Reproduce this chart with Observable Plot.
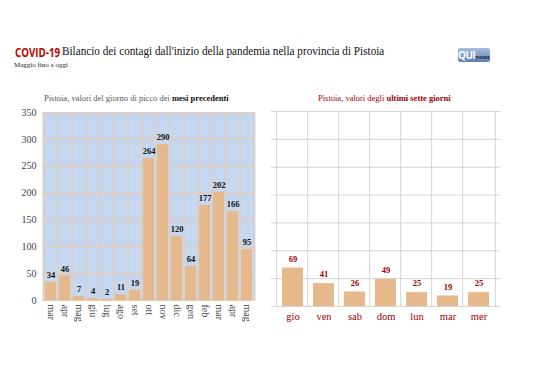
<!DOCTYPE html>
<html><head><meta charset="utf-8">
<script src="https://cdn.jsdelivr.net/npm/d3@7"></script>
<script src="https://cdn.jsdelivr.net/npm/@observablehq/plot@0.6"></script>
<style>
body{margin:0;background:#fff;width:538px;height:380px;position:relative;overflow:hidden;font-family:"Liberation Serif","DejaVu Serif",serif;}
.abs{position:absolute;white-space:nowrap;}
.sans{font-family:"Open Sans","Liberation Sans",sans-serif;}
</style></head><body>
<div class="abs sans" style="left:15px;top:44px;font-size:12.5px;font-weight:700;color:#c00000;transform:scaleX(0.78);transform-origin:left center;">COVID-19</div>
<div class="abs" style="left:62px;top:44px;font-size:12.5px;color:#111;transform:scaleX(0.895);transform-origin:left center;">Bilancio dei contagi dall'inizio della pandemia nella provincia di Pistoia</div>
<div class="abs" style="left:14px;top:61px;font-size:7px;color:#222;">Maggio fino a oggi</div>
<div class="abs sans" style="left:458px;top:48px;width:32px;height:14px;background:linear-gradient(#a9bddd,#5f7fb3);border-radius:2px;font-size:10px;font-weight:700;color:#fff;line-height:14px;overflow:hidden;"><span style="letter-spacing:-0.5px;">QUI</span><span style="font-size:5.5px;color:#1b2a4a;">news</span></div>
<div class="abs" style="left:44px;top:93px;font-size:8.5px;color:#555;">Pistoia, valori del giorno di picco dei <b style="color:#111;">mesi precedenti</b></div>
<div class="abs" style="left:318px;top:93px;font-size:8.5px;color:#a00000;">Pistoia, valori degli <b>ultimi sette giorni</b></div>
<div class="abs" id="left" style="left:0;top:105px;"></div>
<div class="abs" id="right" style="left:265px;top:105px;"></div>
<script>
const months = ["mar","apr","mag","giu","lug","ago","set","ott","nov","dic","gen","feb","mar","apr","mag"];
const monthValues = [34,46,7,4,2,11,19,264,290,120,64,177,202,166,95];
const days = ["gio","ven","sab","dom","lun","mar","mer"];
const dayValues = [69,41,26,49,25,19,25];
const yTicks = [0,50,100,150,200,250,300,350];

const mData = months.map((m,i)=>({i, m, v: monthValues[i]}));
const dData = days.map((d,i)=>({i, d, v: dayValues[i]}));

const serif = "'Liberation Serif', 'DejaVu Serif', serif";
const barColor = "#e6b98c";
// Left chart
{
  const W = 265, H = 240, ml = 42, mr = 10, mt = 7, mb = 45;
  const step = (W-ml-mr)/months.length;
  const idx = d3.range(months.length);
  const p = Plot.plot({
    width: W, height: H, marginLeft: ml, marginRight: mr, marginTop: mt, marginBottom: mb,
    style: {fontFamily: serif, fontSize: "10px", background: "transparent"},
    x: {type: "band", domain: idx, padding: 0.2, label: null, tickSize: 0, tickPadding: 4, tickRotate: 90, tickFormat: i => months[i]},
    y: {domain: [0,350], ticks: yTicks, label: null, tickSize: 0, tickPadding: 6},
    marks: [
      Plot.frame({fill: "#c6d8f1", stroke: null}),
      Plot.ruleY(yTicks, {stroke: "#efc9a2", strokeWidth: 1}),
      Plot.ruleX(idx, {x: d => d, dx: -step/2, stroke: "#efc9a2", strokeWidth: 1}),
      Plot.ruleX([idx[idx.length-1]], {x: d => d, dx: step/2, stroke: "#efc9a2", strokeWidth: 1}),
      Plot.barY(mData, {x: "i", y: "v", fill: barColor}),
      Plot.text(mData, {x: "i", y: "v", text: d => String(d.v), dy: -7, fontWeight: "bold", fontSize: 8.5, fill: "#111"})
    ]
  });
  p.querySelectorAll("g[aria-label='y-axis tick label'] text, g[aria-label='x-axis tick label'] text").forEach(t=>t.setAttribute("fill","#444"));
  document.getElementById("left").appendChild(p);
}
// Right chart
{
  const W = 273, H = 240, ml = 6, mr = 38, mt = 6, mb = 39;
  const step = (W-ml-mr)/days.length;
  const idx = d3.range(days.length);
  const p = Plot.plot({
    width: W, height: H, marginLeft: ml, marginRight: mr, marginTop: mt, marginBottom: mb,
    style: {fontFamily: serif, fontSize: "10.5px", background: "transparent", color: "#a00000"},
    x: {type: "band", domain: idx, padding: 0.32, label: null, tickSize: 0, tickPadding: 6, tickFormat: i => days[i]},
    y: {domain: [0,350], ticks: yTicks, label: null, axis: null},
    marks: [
      Plot.ruleY(yTicks, {stroke: "#d4d4d4", strokeWidth: 1}),
      Plot.ruleX(idx, {x: d => d, dx: -step/2, stroke: "#d4d4d4", strokeWidth: 1}),
      Plot.ruleX([idx[idx.length-1]], {x: d => d, dx: step/2, stroke: "#d4d4d4", strokeWidth: 1}),
      Plot.barY(dData, {x: "i", y: "v", fill: barColor}),
      Plot.text(dData, {x: "i", y: "v", text: d => String(d.v), dy: -9, fontWeight: "bold", fontSize: 8.5, fill: "#a00000"})
    ]
  });
  document.getElementById("right").appendChild(p);
}
</script>
</body></html>
